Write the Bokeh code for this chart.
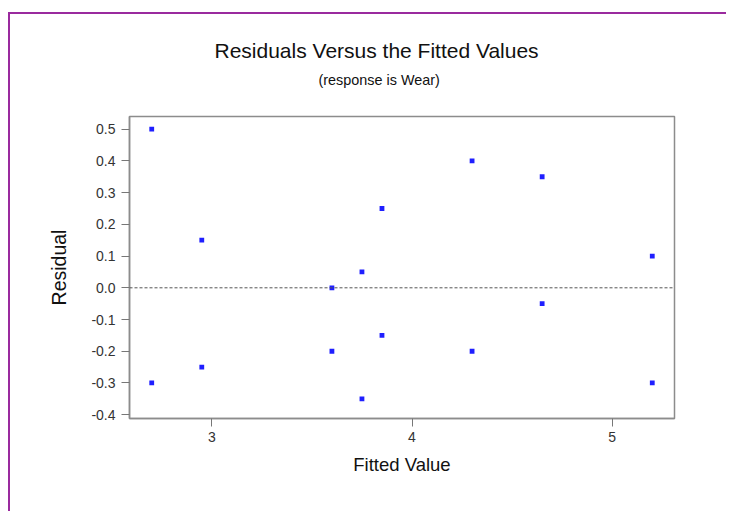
from bokeh.plotting import figure
from bokeh.models import Title, Span, FixedTicker, PrintfTickFormatter, Range1d, ColumnDataSource
from bokeh.embed import file_html
from bokeh.resources import INLINE

# Data
fitted = [2.7, 2.7, 2.95, 2.95, 3.6, 3.6, 3.75, 3.75, 3.85, 3.85, 4.3, 4.3, 4.65, 4.65, 5.2, 5.2]
residual = [0.5, -0.3, 0.15, -0.25, 0.0, -0.2, 0.05, -0.35, 0.25, -0.15, 0.4, -0.2, 0.35, -0.05, 0.1, -0.3]
x_ticks = [3, 4, 5]
y_ticks = [-0.4, -0.3, -0.2, -0.1, 0.0, 0.1, 0.2, 0.3, 0.4, 0.5]
title_text = "Residuals Versus the Fitted Values"
subtitle_text = "(response is Wear)"

FONT = "Liberation Sans"
PURPLE = "#9a2a9e"

p = figure(width=718, height=499, output_backend="svg", toolbar_location=None,
           x_range=Range1d(2.589, 5.311), y_range=Range1d(-0.412, 0.54),
           min_border_left=119, min_border_top=102, min_border_right=54, min_border_bottom=95,
           margin=(12, 0, 0, 8))
p.styles = {"border-top": f"2px solid {PURPLE}", "border-left": f"2px solid {PURPLE}"}

p.grid.visible = False
p.outline_line_color = "#8c8c8c"
p.outline_line_width = 1.5

# Titles (first added sits closest to the frame)
p.add_layout(Title(text=subtitle_text, align="left", offset=189,
                   text_font=FONT, text_font_size="14.4px", text_font_style="normal",
                   text_color="#111111", standoff=57), "above")
p.add_layout(Title(text=title_text, align="left", offset=85,
                   text_font=FONT, text_font_size="21px", text_font_style="normal",
                   text_color="#111111", standoff=-41), "above")

src = ColumnDataSource(dict(x=fitted, y=residual))
p.scatter("x", "y", source=src, marker="square", size=4.8, fill_color="#1f1fff", line_color=None)

p.add_layout(Span(location=0, dimension="width", line_color="#555555", line_dash="3 2", line_width=1))

for ax in (p.xaxis[0], p.yaxis[0]):
    ax.axis_line_color = "#8c8c8c"
    ax.axis_line_width = 1.5
    ax.major_tick_line_color = "#777777"
    ax.major_tick_out = 8
    ax.major_tick_in = 0
    ax.minor_tick_line_color = None
    ax.major_label_text_font = FONT
    ax.major_label_text_font_size = "14px"
    ax.major_label_text_color = "#333333"
    ax.axis_label_text_font = FONT
    ax.axis_label_text_font_style = "normal"
    ax.axis_label_text_color = "#111111"

p.xaxis.axis_label_text_font_size = "18.5px"
p.yaxis.axis_label_text_font_size = "19.5px"
p.xaxis.ticker = FixedTicker(ticks=x_ticks)
p.yaxis.ticker = FixedTicker(ticks=y_ticks)
p.yaxis.formatter = PrintfTickFormatter(format="%.1f")
p.xaxis.axis_label = "Fitted Value"
p.yaxis.axis_label = "Residual"
p.xaxis.major_label_standoff = 5
p.xaxis.axis_label_standoff = 9
p.yaxis.major_label_standoff = 6
p.yaxis.axis_label_standoff = 18

open("out.html", "w").write(file_html(p, INLINE))
